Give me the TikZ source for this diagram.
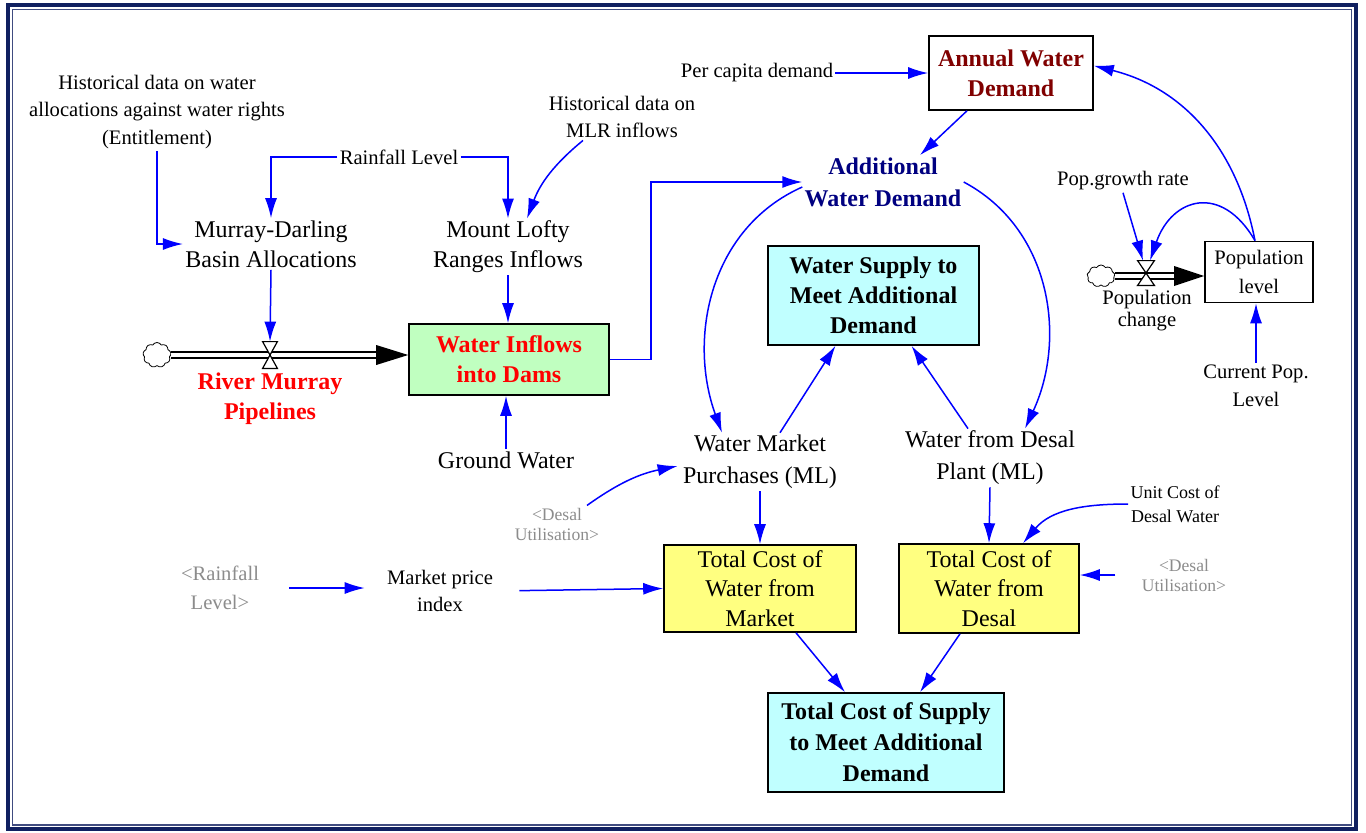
\documentclass[tikz,border=0pt]{standalone}
\usepackage{fontspec}
\setmainfont{Liberation Serif}
\usetikzlibrary{positioning,arrows.meta,calc,shapes.symbols}
\definecolor{linkblue}{HTML}{0000FF}
\definecolor{framenavy}{HTML}{102060}
\definecolor{stockred}{HTML}{800000}
\definecolor{auxnavy}{HTML}{000080}
\definecolor{flowred}{HTML}{FF0000}
\definecolor{stockgreen}{HTML}{C0FFC0}
\definecolor{stockcyan}{HTML}{C0FFFF}
\definecolor{stockyellow}{HTML}{FFFF80}
\definecolor{shadowgray}{HTML}{8C8C8C}

\begin{document}
\begin{tikzpicture}[x=0.5pt, y=-0.5pt,
    lbl/.style={align=center, inner sep=1pt, font=\fontsize{12}{15}\selectfont},
    small/.style={align=center, inner sep=1pt, font=\fontsize{10.3}{13.8}\selectfont},
    shadow/.style={align=center, inner sep=1pt, text=shadowgray, font=\fontsize{8.8}{10}\selectfont},
    stock/.style={draw, line width=0.8pt, align=center, inner sep=0pt, font=\bfseries\fontsize{12}{15}\selectfont},
    link/.style={linkblue, line width=0.75pt, -{Latex[length=10pt,width=6pt]}},
    pipe/.style={double=white, double distance=2.4pt, line width=0.6pt},
    valvebox/.style={inner sep=0pt},
    valvesym/.style={fill=white, draw=black, line width=0.6pt},
    cloudsym/.style={cloud, cloud puffs=9, cloud puff arc=120, cloud ignores aspect, draw, line width=0.4pt, inner sep=0pt}]
  \useasboundingbox (0,0) rectangle (1366,832);
  \draw[framenavy, line width=2.2pt] (8,5) rectangle (1356,829);
  \draw[framenavy!80, line width=0.6pt] (12.5,9.5) rectangle (1351.5,825);

  \node[stock, fill=white, text=stockred, minimum width=82pt, minimum height=37pt] (awd) at (1011,73) {Annual Water\\Demand};
  \node[stock, fill=stockgreen, text=flowred, minimum width=100pt, minimum height=35.5pt] (wid) at (509,359.5) {Water Inflows\\into Dams};
  \node[stock, fill=stockcyan, minimum width=105.5pt, minimum height=49.5pt] (ws) at (873.5,295.5) {Water Supply to\\Meet Additional\\Demand};
  \node[stock, fill=stockyellow, font=\fontsize{12}{14.8}\selectfont, minimum width=96pt, minimum height=43.5pt] (tcm) at (760,588.5) {Total Cost of\\Water from\\Market};
  \node[stock, fill=stockyellow, font=\fontsize{12}{14.8}\selectfont, minimum width=90pt, minimum height=44.5pt] (tcd) at (989,588.5) {Total Cost of\\Water from\\Desal};
  \node[stock, fill=stockcyan, font=\bfseries\fontsize{12}{15.5}\selectfont, minimum width=118pt, minimum height=49.5pt] (tcs) at (886,742.5) {Total Cost of Supply\\to Meet Additional\\Demand};
  \node[stock, font=\fontsize{10.3}{14.5}\selectfont, minimum width=54pt, minimum height=30.5pt] (pl) at (1259,272) {Population\\level};

  \node[small] (hist_alloc) at (157,112) {Historical data on water\\allocations against water rights\\(Entitlement)};
  \node[small] (rain) at (399,157) {Rainfall Level};
  \node[small] (hist_mlr) at (622,117) {Historical data on\\MLR inflows};
  \node[small] (percap) at (757,73) {Per capita demand};
  \node[lbl, text=auxnavy, font=\bfseries\fontsize{12}{16}\selectfont] (add) at (883,182) {Additional\\Water Demand};
  \node[lbl] (mdba) at (271,244) {Murray-Darling\\Basin Allocations};
  \node[lbl] (mlri) at (508,247) {Mount Lofty\\Ranges Inflows};
  \node[lbl, text=flowred, font=\bfseries\fontsize{12}{15}\selectfont] (rmlabel) at (270,399) {River Murray\\Pipelines};
  \node[lbl] (gw) at (506,460) {Ground Water};
  \node[lbl, font=\fontsize{12}{16}\selectfont] (wmp) at (760,462) {Water Market\\Purchases (ML)};
  \node[lbl, font=\fontsize{12}{16}\selectfont] (wdp) at (990,458) {Water from Desal\\Plant (ML)};
  \node[shadow] (desal1) at (557,524) {<Desal\\Utilisation>};
  \node[small, font=\fontsize{9}{12}\selectfont] (ucd) at (1175,504) {Unit Cost of\\Desal Water};
  \node[shadow] (desal2) at (1184,575) {<Desal\\Utilisation>};
  \node[small, text=shadowgray, font=\fontsize{10.3}{14.5}\selectfont] (rainL) at (220,588) {<Rainfall\\Level>};
  \node[small] (mpi) at (440,591) {Market price\\index};
  \node[small] (pgr) at (1123,181) {Pop.growth rate};
  \node[small, font=\fontsize{10.3}{11}\selectfont] (popch) at (1147,311) {Population\\change};
  \node[small] (cpl) at (1256,386) {Current Pop.\\Level};

  \node[cloudsym, minimum width=14pt, minimum height=12.5pt] (rmcloud) at (157,355) {};
  \node[cloudsym, minimum width=14pt, minimum height=11pt] (popcloud) at (1101,276) {};
  \node[valvebox, minimum width=7pt, minimum height=13pt] (rmvalve) at (270,355) {};
  \node[valvebox, minimum width=8pt, minimum height=12pt] (popvalve) at (1146,273) {};

  \coordinate (rmtip) at (rmcloud.east -| wid.west);
  \draw[pipe] (rmcloud.east) -- ($(rmtip)+(-30,0)$);
  \fill (rmtip) -- ++(-32,-10) -- ++(0,20) -- cycle;
  \draw[valvesym] (rmvalve.north west) -- (rmvalve.north east) -- (rmvalve.south west) -- (rmvalve.south east) -- cycle;
  \coordinate (poptip) at (popcloud.east -| pl.west);
  \draw[pipe] (popcloud.east) -- ($(poptip)+(-28,0)$);
  \fill (poptip) -- ++(-30,-10) -- ++(0,20) -- cycle;
  \draw[valvesym] (popvalve.north west) -- (popvalve.north east) -- (popvalve.south west) -- (popvalve.south east) -- cycle;

  \draw[link] (hist_alloc.south) |- (mdba.west);
  \draw[link] (rain.west) -| (mdba.north);
  \draw[link] (rain.east) -| (mlri.north);
  \draw[link] ($(hist_mlr.south)+(-39,0)$) to[bend right=15] ($(mlri.north)+(19,0)$);
  \draw[link] (mdba.south) -- (rmvalve.north);
  \draw[link] (mlri.south) -- (mlri.south |- wid.north);
  \draw[link] (gw.north) -- (gw.north |- wid.south);
  \draw[link] (wid.east) -- ++(41,0) |- (add.west);
  \draw[link] (percap.east) -- (awd.west);
  \draw[link] ($(awd.south)+(-44,0)$) -- ($(add.north)+(37,0)$);
  \draw[link] ($(pl.north)+(-4,0)$) to[out=101,in=-14] (awd.5);
  \draw[link] ($(pl.north)+(-4,0)$) to[out=120,in=71,looseness=1.6] ($(popvalve.north)+(4,0)$);
  \draw[link] (pgr.south) -- ($(popvalve.north)+(-3,0)$);
  \draw[link] (cpl.north) -- (cpl.north |- pl.south);
  \draw[link] ($(add.west)+(0,5)$) to[out=204,in=110] ($(wmp.north)+(-38,0)$);
  \draw[link] (add.east) to[out=-28,in=65] ($(wdp.north)+(35,0)$);
  \draw[link] ($(wmp.north)+(20,0)$) -- ($(ws.south)+(-38,0)$);
  \draw[link] ($(wdp.north)+(-22,0)$) -- ($(ws.south)+(38,0)$);
  \draw[link] ($(desal1.north)+(30,0)$) to[bend left=12] ($(wmp.west)+(-3,4)$);
  \draw[link] (wmp.south) -- (tcm.north);
  \draw[link, shorten <=12pt] (mpi.east) -- (tcm.west);
  \draw[link, shorten <=14pt, shorten >=10pt] (rainL.east) -- (rainL.east -| mpi.west);
  \draw[link] (wdp.south) -- (tcd.north);
  \draw[link] (ucd.west) to[out=180,in=50] ($(tcd.north)+(34,0)$);
  \draw[link, shorten <=12pt] (desal2.west) -- (desal2.west -| tcd.east);
  \draw[link] ($(tcm.south)+(36,0)$) -- ($(tcs.north)+(-41,0)$);
  \draw[link] ($(tcd.south)+(-29,0)$) -- ($(tcs.north)+(34,0)$);
\end{tikzpicture}
\end{document}
